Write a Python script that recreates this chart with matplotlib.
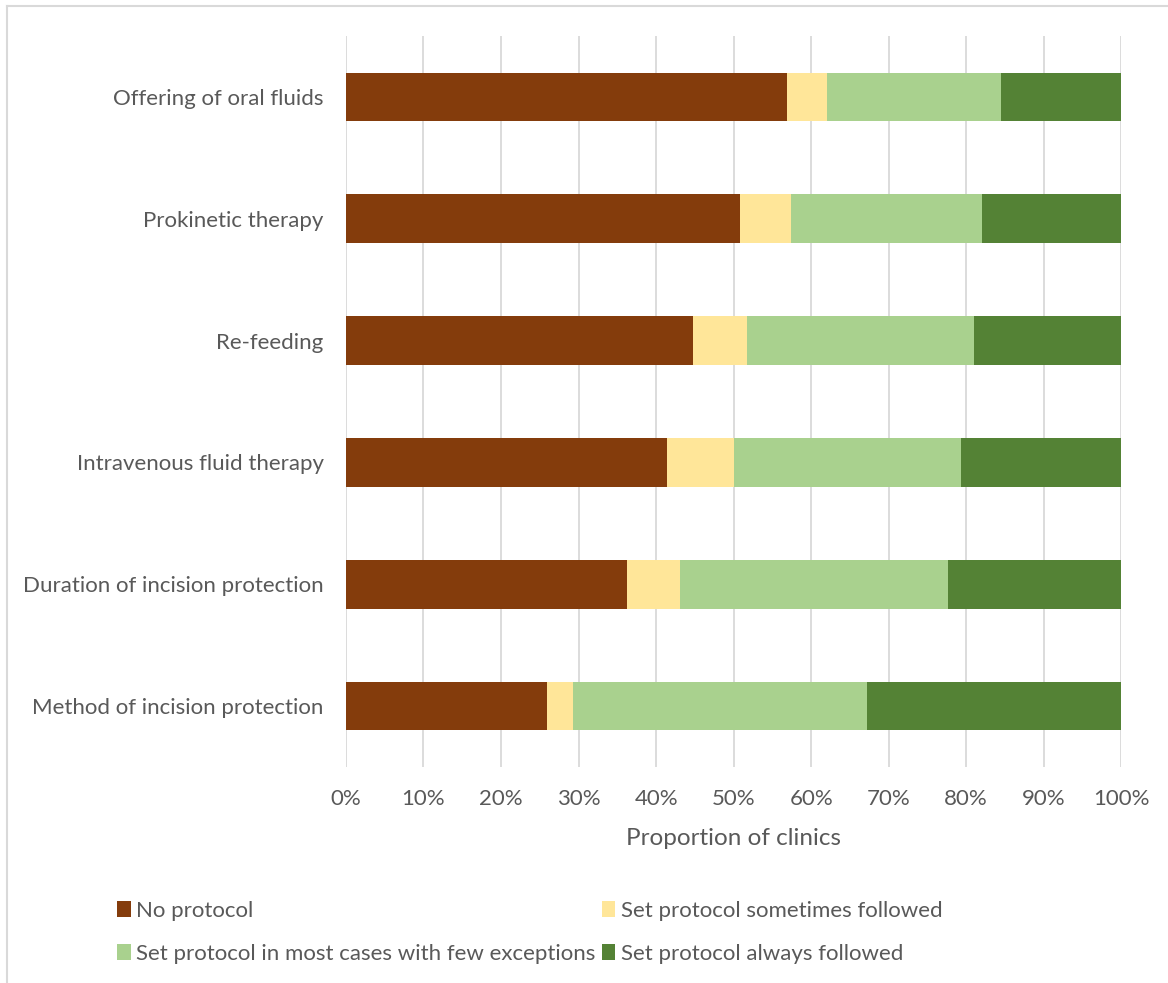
import matplotlib
matplotlib.use("Agg")
import matplotlib.pyplot as plt
import numpy as np

plt.rcParams['font.family'] = ['Lato', 'DejaVu Sans']

categories = [
    "Method of incision protection",
    "Duration of incision protection",
    "Intravenous fluid therapy",
    "Re-feeding",
    "Prokinetic therapy",
    "Offering of oral fluids",
]

# share of clinics (%) per answer, bottom row first
no_protocol = [25.9, 36.2, 41.4, 44.8, 50.8, 56.9]
sometimes = [3.4, 6.9, 8.6, 6.9, 6.6, 5.2]
most_cases = [37.9, 34.5, 29.3, 29.3, 24.6, 22.4]
always = [32.8, 22.4, 20.7, 19.0, 18.0, 15.5]

series_names = [
    "No protocol",
    "Set protocol sometimes followed",
    "Set protocol in most cases with few exceptions",
    "Set protocol always followed",
]
colors = ["#843C0C", "#FFE699", "#A9D18E", "#548235"]
text_color = "#595959"

fig = plt.figure(figsize=(11.68, 9.83), dpi=100)
ax = fig.add_axes([0.2962, 0.2197, 0.6638, 0.7437])

y = np.arange(len(categories))
left = np.zeros(len(categories))
handles = []
for vals, col, name in zip([no_protocol, sometimes, most_cases, always],
                           colors, series_names):
    vals = np.array(vals)
    b = ax.barh(y, vals, left=left, height=0.4, color=col, label=name,
                zorder=3)
    handles.append(b)
    left += vals

ax.set_xlim(0, 100)
ax.set_ylim(-0.5, len(categories) - 0.5)
ax.set_xticks(np.arange(0, 101, 10))
ax.set_xticklabels([f"{v}%" for v in range(0, 101, 10)])
ax.set_yticks(y)
ax.set_yticklabels(categories)
ax.xaxis.grid(True, color="#D9D9D9", linewidth=1.3, zorder=0)
ax.tick_params(axis="both", length=0, labelsize=16, labelcolor=text_color)
ax.tick_params(axis="x", pad=16)
ax.tick_params(axis="y", pad=16)
for s in ax.spines.values():
    s.set_visible(False)

ax.set_xlabel("Proportion of clinics", fontsize=17.5, color=text_color,
              labelpad=13.5)

# legend fills column by column, so order the entries to read row by row
order = [0, 2, 1, 3]
leg = fig.legend(handles=[handles[i] for i in order],
                 labels=[series_names[i] for i in order], ncol=2,
                 loc="upper left", bbox_to_anchor=(0.1, 0.0835),
                 frameon=False, fontsize=16, labelcolor=text_color,
                 handlelength=0.62, handleheight=0.7, handletextpad=0.25,
                 columnspacing=0.27, labelspacing=1.04, borderaxespad=0,
                 borderpad=0)

# thin frame line along the top and left edge of the chart area
fig.add_artist(plt.Line2D([0.0062, 0.0062], [0, 0.9935], color="#D9D9D9",
                          linewidth=1.5, transform=fig.transFigure))
fig.add_artist(plt.Line2D([0.0062, 1.0], [0.9935, 0.9935], color="#D9D9D9",
                          linewidth=1.5, transform=fig.transFigure))

fig.savefig("out.png", dpi=100, facecolor="white")
